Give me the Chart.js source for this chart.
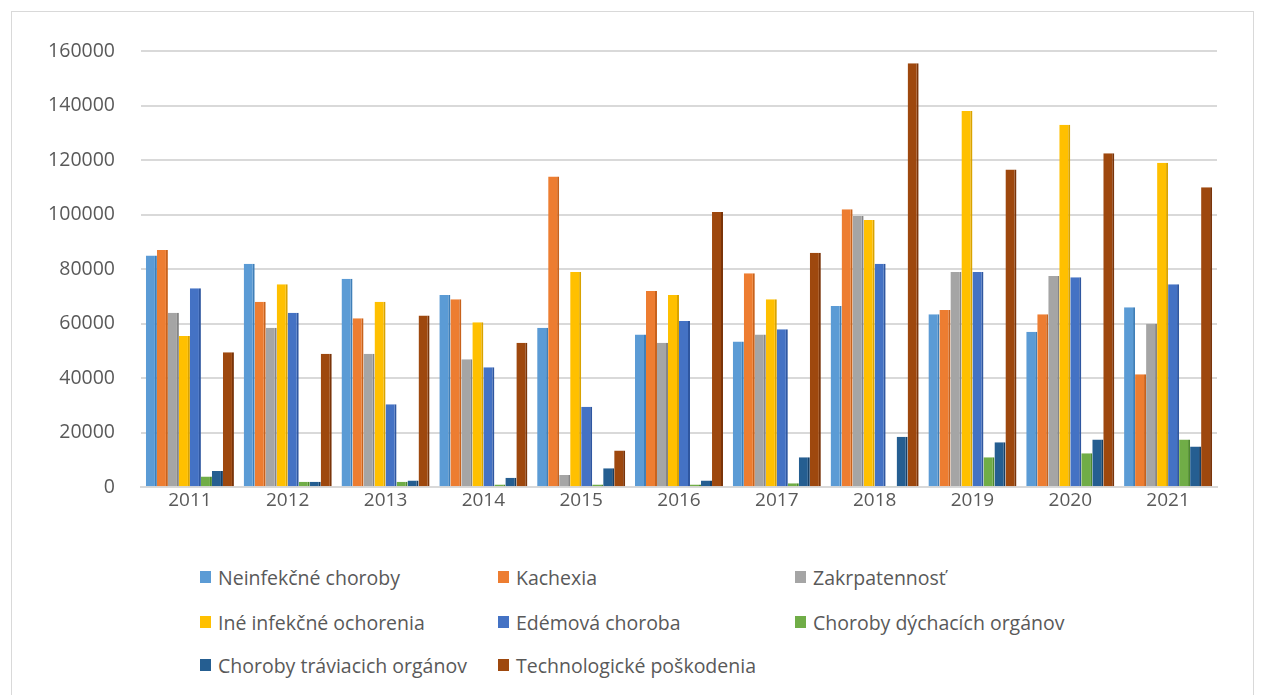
<!DOCTYPE html>
<html>
<head>
<meta charset="utf-8">
<script src="https://cdn.jsdelivr.net/npm/chart.js@4/dist/chart.umd.min.js"></script>
<style>
  html, body { margin: 0; padding: 0; background: #fff; }
  #frame { position: absolute; left: 11px; top: 11px; width: 1243px; height: 690px; border: 1px solid #d9d9d9; box-sizing: border-box; }
  #wrap { position: absolute; left: 0; top: 0; width: 1263px; height: 525px; }
  #legend { position: absolute; left: 0; top: 0; font-family: "Open Sans", sans-serif; font-size: 19.5px; color: #595959; }
  .item { position: absolute; display: flex; align-items: center; white-space: nowrap; }
  .box { width: 11px; height: 12px; margin-right: 7px; }
</style>
</head>
<body>
<div id="frame"></div>
<div id="wrap"><canvas id="c"></canvas></div>
<div id="legend"></div>
<script>
const years = ['2011','2012','2013','2014','2015','2016','2017','2018','2019','2020','2021'];
const seriesNames = ['Neinfekčné choroby','Kachexia','Zakrpatennosť','Iné infekčné ochorenia','Edémová choroba','Choroby dýchacích orgánov','Choroby tráviacich orgánov','Technologické poškodenia'];
const neinfekcne = [85000, 82000, 76500, 70500, 58500, 56000, 53500, 66500, 63500, 57000, 66000];
const kachexia   = [87000, 68000, 62000, 69000, 114000, 72000, 78500, 102000, 65000, 63500, 41500];
const zakrpatenost = [64000, 58500, 49000, 47000, 4500, 53000, 56000, 99500, 79000, 77500, 60000];
const ineInfekcne = [55500, 74500, 68000, 60500, 79000, 70500, 69000, 98000, 138000, 133000, 119000];
const edemova    = [73000, 64000, 30500, 44000, 29500, 61000, 58000, 82000, 79000, 77000, 74500];
const dychacie   = [4000, 2000, 2000, 1000, 1000, 1000, 1500, 500, 11000, 12500, 17500];
const traviace   = [6000, 2000, 2500, 3500, 7000, 2500, 11000, 18500, 16500, 17500, 15000];
const technolog  = [49500, 49000, 63000, 53000, 13500, 101000, 86000, 155500, 116500, 122500, 110000];
const yTicks = [0, 20000, 40000, 60000, 80000, 100000, 120000, 140000, 160000];

const colors = ['#5B9BD5','#ED7D31','#A5A5A5','#FFC000','#4472C4','#70AD47','#255E91','#9E480E'];
const borders = ['#3F7FB8','#C8621C','#858585','#D9A300','#2F57A0','#4E8A2E','#163F66','#7A3409'];
const allData = [neinfekcne, kachexia, zakrpatenost, ineInfekcne, edemova, dychacie, traviace, technolog];

const datasets = seriesNames.map((n, i) => ({
  label: n,
  data: allData[i],
  backgroundColor: colors[i],
  borderColor: borders[i],
  borderWidth: {top: 0, left: 0, right: 2, bottom: 0},
  categoryPercentage: 0.9,
  barPercentage: 1.0
}));

new Chart(document.getElementById('c'), {
  type: 'bar',
  data: { labels: years, datasets },
  options: {
    responsive: true,
    maintainAspectRatio: false,
    animation: false,
    layout: { padding: { top: 51, right: 46, bottom: 0, left: 0 } },
    plugins: { legend: { display: false }, tooltip: { enabled: false } },
    scales: {
      x: {
        grid: { display: false, drawTicks: false },
        border: { display: true, color: '#d9d9d9', width: 2 },
        ticks: { color: '#595959', font: { family: 'Open Sans', size: 19 }, padding: 2 },
        afterFit: s => { s.height = 33; }
      },
      y: {
        min: 0, max: 160000,
        afterBuildTicks: s => { s.ticks = yTicks.map(v => ({ value: v })); },
        grid: { color: '#d9d9d9', lineWidth: 2, drawTicks: false },
        border: { display: false },
        ticks: { color: '#595959', font: { family: 'Open Sans', size: 19.5 }, padding: 26, callback: v => String(v) },
        afterFit: s => { s.width = 141; }
      }
    }
  }
});

const legend = document.getElementById('legend');
const colX = [200, 498, 795];
const rowY = [577, 622, 665];
seriesNames.forEach((n, i) => {
  const d = document.createElement('div');
  d.className = 'item';
  d.style.left = colX[i % 3] + 'px';
  d.style.top = (rowY[Math.floor(i / 3)] - 14) + 'px';
  d.style.height = '28px';
  d.innerHTML = '<span class="box" style="background:' + colors[i] + '"></span><span>' + n + '</span>';
  legend.appendChild(d);
});
</script>
</body>
</html>
